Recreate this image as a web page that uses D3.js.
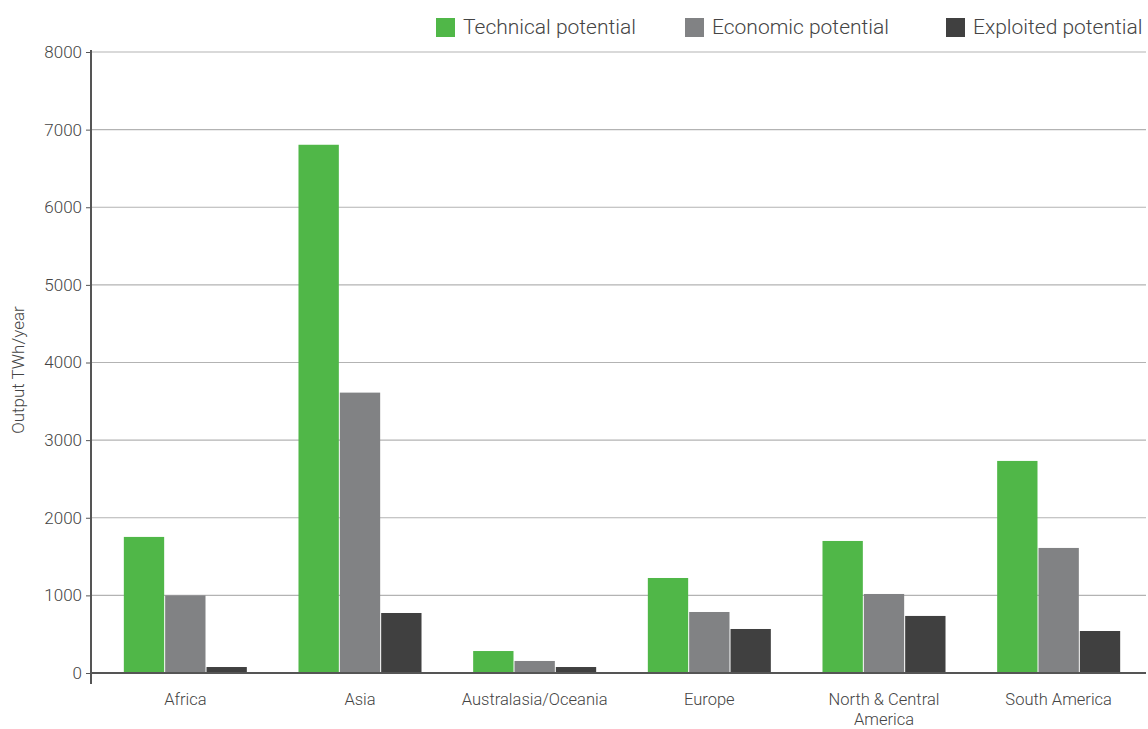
<!DOCTYPE html>
<html><head><meta charset="utf-8">
<script src="https://cdn.jsdelivr.net/npm/d3@7"></script>
<style>
html,body{margin:0;padding:0;background:#fff;}
svg{display:block;font-family:"Roboto","Liberation Sans",sans-serif;font-weight:300;}
</style></head>
<body>
<svg id="chart" width="1148" height="729"></svg>
<script>
const categories = ["Africa","Asia","Australasia/Oceania","Europe","North & Central America","South America"];
const seriesNames = ["Technical potential","Economic potential","Exploited potential"];
const technical = [1753, 6805, 283, 1224, 1701, 2732];
const economic = [1000, 3612, 155, 786, 1018, 1611];
const exploited = [77, 773, 77, 567, 735, 541];
const yTicks = [0,1000,2000,3000,4000,5000,6000,7000,8000];
const colors = ["#50b748","#818284","#404040"];

const svg = d3.select("#chart");
const y = d3.scaleLinear().domain([0,8000]).range([673,52]);
const x = d3.scaleBand().domain(categories).range([98,1146]).paddingInner(0.29).paddingOuter(0.145);
const xs = d3.scaleBand().domain(seriesNames).range([0,x.bandwidth()]);
const data = categories.map((c,i)=>({c, vals:[technical[i],economic[i],exploited[i]]}));

// gridlines
svg.append("g").selectAll("line").data(yTicks.filter(d=>d>0)).join("line")
  .attr("x1",91).attr("x2",1146).attr("y1",d=>y(d)).attr("y2",d=>y(d))
  .attr("stroke","#b3b3b3").attr("stroke-width",1.2);

// bars
const g = svg.append("g").selectAll("g").data(data).join("g")
  .attr("transform",d=>`translate(${x(d.c)},0)`);
g.selectAll("rect").data(d=>d.vals.map((v,j)=>({v,j}))).join("rect")
  .attr("x",d=>xs(seriesNames[d.j])+0.5).attr("width",xs.bandwidth()-1)
  .attr("y",d=>y(d.v)).attr("height",d=>y(0)-y(d.v))
  .attr("fill",d=>colors[d.j]);

// y axis
const yAxis = d3.axisLeft(y).tickValues(yTicks).tickFormat(d3.format("d")).tickSize(5).tickPadding(4);
const ya = svg.append("g").attr("transform","translate(91,0)").call(yAxis);
ya.select(".domain").remove();
ya.selectAll(".tick line").attr("stroke","#555");
ya.selectAll("text").attr("font-size",17).attr("fill","#444").attr("font-family","Roboto, Liberation Sans, sans-serif").attr("font-weight",300);
svg.append("line").attr("x1",91).attr("x2",91).attr("y1",50).attr("y2",684).attr("stroke","#555").attr("stroke-width",2);
svg.append("line").attr("x1",91).attr("x2",1146).attr("y1",y(0)).attr("y2",y(0)).attr("stroke","#555").attr("stroke-width",2);

// x labels
const xl = svg.append("g").selectAll("text").data(categories).join("text")
  .attr("x",d=>x(d)+x.bandwidth()/2).attr("y",705)
  .attr("text-anchor","middle").attr("font-size",16.5).attr("fill","#444");
xl.each(function(d){
  const t=d3.select(this);
  if(d==="North & Central America"){
    t.append("tspan").attr("x",x(d)+x.bandwidth()/2).attr("dy",0).text("North & Central");
    t.append("tspan").attr("x",x(d)+x.bandwidth()/2).attr("dy",19.5).text("America");
  } else t.text(d);
});

// y title
svg.append("text").attr("transform","translate(24,370) rotate(-90)")
  .attr("text-anchor","middle").attr("font-size",17).attr("fill","#444").text("Output TWh/year");

// legend
const legX=[436,685,946];
const lg = svg.append("g").selectAll("g").data(seriesNames).join("g")
  .attr("transform",(d,i)=>`translate(${legX[i]},18)`);
lg.append("rect").attr("width",19).attr("height",19).attr("fill",(d,i)=>colors[i]);
lg.append("text").attr("x",27).attr("y",16).attr("font-size",21).attr("fill","#444").text(d=>d);
</script>
</body></html>
